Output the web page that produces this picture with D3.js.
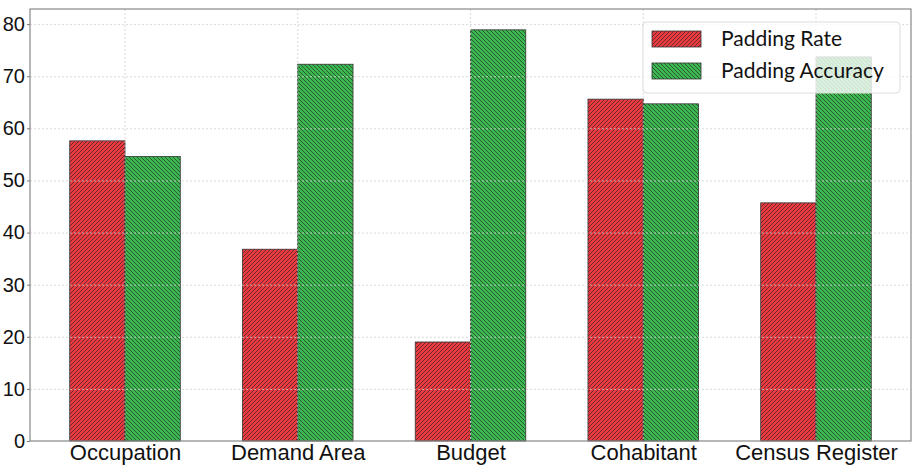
<!DOCTYPE html>
<html>
<head>
<meta charset="utf-8">
<script src="https://cdn.jsdelivr.net/npm/d3@7"></script>
<style>
  body { margin: 0; background: #fff; }
  svg { display: block; font-family: Lato, "Open Sans", sans-serif; }
</style>
</head>
<body>
<div id="chart"></div>
<script>
// data
const categories = ['Occupation', 'Demand Area', 'Budget', 'Cohabitant', 'Census Register'];
const paddingRate = [57.6, 36.8, 19.0, 65.6, 45.7];
const paddingAccuracy = [54.6, 72.3, 78.9, 64.7, 73.7];
const seriesNames = ['Padding Rate', 'Padding Accuracy'];
const yTicks = [0, 10, 20, 30, 40, 50, 60, 70, 80];

const W = 912, H = 466;
const plot = { left: 30, top: 9, right: 911, bottom: 441 };

const svg = d3.select('#chart').append('svg')
  .attr('width', W)
  .attr('height', H);

// hatch patterns
const defs = svg.append('defs');
function hatch(id, color, forward) {
  const p = defs.append('pattern')
    .attr('id', id)
    .attr('patternUnits', 'userSpaceOnUse')
    .attr('width', 4)
    .attr('height', 4);
  p.append('rect').attr('width', 4).attr('height', 4).attr('fill', color);
  p.append('path')
    .attr('d', forward
      ? 'M-1,1 l2,-2 M0,4 l4,-4 M3,5 l2,-2'
      : 'M-1,3 l2,2 M0,0 l4,4 M3,-1 l2,2')
    .attr('stroke', '#222')
    .attr('stroke-opacity', 0.8)
    .attr('stroke-width', 0.8);
}
hatch('hatchRed', '#ea3a40', true);
hatch('hatchGreen', '#3cb850', false);

const x = d3.scalePoint()
  .domain(categories)
  .range([plot.left, plot.right])
  .padding(0.55);
const y = d3.scaleLinear()
  .domain([0, 82.9])
  .range([plot.bottom, plot.top]);

const barW = x.step() * 0.32;

const series = [
  { name: seriesNames[0], values: paddingRate, fill: 'url(#hatchRed)', off: -1 },
  { name: seriesNames[1], values: paddingAccuracy, fill: 'url(#hatchGreen)', off: 0 }
];

// bars
series.forEach(s => {
  svg.append('g').selectAll('rect')
    .data(categories)
    .enter().append('rect')
    .attr('x', d => x(d) + s.off * barW)
    .attr('y', (d, i) => y(s.values[i]))
    .attr('width', barW)
    .attr('height', (d, i) => y(0) - y(s.values[i]))
    .attr('fill', s.fill)
    .attr('stroke', '#333')
    .attr('stroke-width', 0.8);
});

// grid on top of bars
const grid = svg.append('g')
  .attr('stroke', '#cfcfcf')
  .attr('stroke-width', 0.8)
  .attr('stroke-dasharray', '2,2');
grid.selectAll('.hg').data(yTicks.slice(1)).enter().append('line')
  .attr('x1', plot.left).attr('x2', plot.right)
  .attr('y1', d => y(d) + 0.5).attr('y2', d => y(d) + 0.5);
grid.selectAll('.vg').data(categories).enter().append('line')
  .attr('x1', d => x(d)).attr('x2', d => x(d))
  .attr('y1', plot.top).attr('y2', plot.bottom);

// axes
const yAxis = d3.axisLeft(y).tickValues(yTicks).tickSize(3).tickPadding(2);
const gy = svg.append('g')
  .attr('transform', 'translate(' + plot.left + ',0)')
  .call(yAxis);
gy.select('.domain').remove();
gy.selectAll('.tick line').attr('stroke', '#777');
gy.selectAll('.tick text').attr('font-size', 20).attr('fill', '#111');

const xAxis = d3.axisBottom(x).tickSize(0).tickPadding(3);
const gx = svg.append('g')
  .attr('transform', 'translate(0,' + plot.bottom + ')')
  .call(xAxis);
gx.select('.domain').remove();
gx.selectAll('.tick text').attr('font-size', 22).attr('fill', '#111');

// frame
svg.append('rect')
  .attr('x', plot.left).attr('y', plot.top)
  .attr('width', plot.right - plot.left)
  .attr('height', plot.bottom - plot.top)
  .attr('fill', 'none')
  .attr('stroke', '#888')
  .attr('stroke-width', 1.2);

// legend
const lg = svg.append('g').attr('transform', 'translate(643,22)');
lg.append('rect')
  .attr('width', 257).attr('height', 71)
  .attr('rx', 4)
  .attr('fill', 'rgba(255,255,255,0.8)')
  .attr('stroke', '#ddd');
series.forEach((s, i) => {
  lg.append('rect')
    .attr('x', 9).attr('y', 9 + i * 32)
    .attr('width', 49).attr('height', 16)
    .attr('fill', s.fill)
    .attr('stroke', '#333')
    .attr('stroke-width', 0.8);
  lg.append('text')
    .attr('x', 78).attr('y', 17 + i * 32)
    .attr('dy', '0.35em')
    .attr('font-size', 21)
    .attr('fill', '#111')
    .text(s.name);
});
</script>
</body>
</html>
